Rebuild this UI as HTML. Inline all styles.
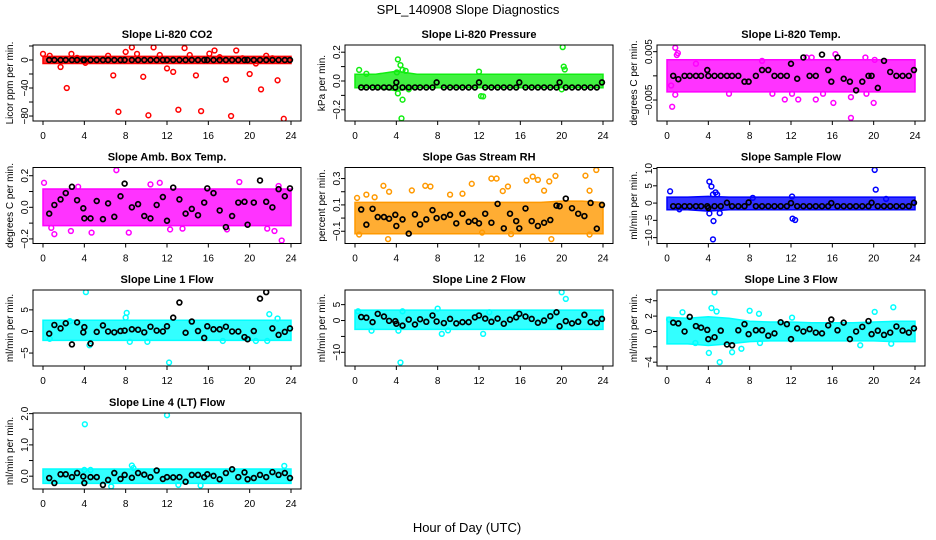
<!DOCTYPE html>
<html><head><meta charset="utf-8"><style>
html,body{margin:0;padding:0;background:#fff;}
svg{display:block;font-family:"Liberation Sans",Arial,sans-serif;}
</style></head><body>
<svg id="chart" width="936" height="540" viewBox="0 0 936 540" xmlns="http://www.w3.org/2000/svg">
<rect x="0" y="0" width="936" height="540" fill="#fff"/>
<text x="468" y="14" text-anchor="middle" font-size="13">SPL_140908  Slope Diagnostics</text>
<text x="467" y="532" text-anchor="middle" font-size="13">Hour of Day (UTC)</text>
</svg>
<script>
// ---- shared data ----
const blackHours=[0.6,1.1,1.7,2.2,2.8,3.3,3.9,4.0,4.6,5.2,5.8,6.3,6.9,7.5,7.9,8.6,9.2,9.8,10.4,11.0,11.6,12.0,12.6,13.2,13.8,14.4,15.0,15.6,15.9,16.5,17.1,17.7,18.3,18.9,19.5,19.8,20.4,21.0,21.6,22.2,22.8,23.4,23.9];
const bandHours=[0,2,4,6,8,10,12,14,16,18,20,22,24];
const xTicks=[0,4,8,12,16,20,24];

// P1 CO2
const co2Black=[0,0,0,0,0,0,0,0,0,0,0,0,0,0,0,0,0,0,0,0,0,0,0,0,0,0,0,0,0,0,0,0,0,0,0,0,0,0,0,0,0,0,0];
const co2BandLo=[-1.5,-1.5,-1.5,-1.5,-1.5,-1.5,-1.5,-1.5,-1.5,-1.5,-1.5,-1.5,-1.5];
const co2BandHi=[1.5,1.5,1.5,1.5,1.5,1.5,1.5,1.5,1.5,1.5,1.5,1.5,1.5];
const co2OutX=[0,0.65,1.7,2.3,2.75,3.3,4.1,6.3,6.8,7.3,8.0,8.6,9.1,9.7,10.2,10.7,11.3,12,12.6,13.1,13.7,14.2,14.8,15.3,16.1,16.6,17.1,17.7,18.2,18.7,19.3,20,20.6,21.1,21.6,22.2,22.7,23.3];
const co2OutY=[8.7,6,-10,-40,8.7,3,-4,6,-22,-74,11.5,18,8.7,-24,-79,18,7,-12,-17,-71,17,7,-22,-73,9,13.5,4,-28,-80,13.5,2.4,-20,-5,-42,6,2.4,-29,-84];
const co2Ticks=[20,0,-20,-40,-60,-80];
const co2TickLabels=["","0","","-40","","-80"];

// P2 Pressure
const presBlack=[-0.045,-0.045,-0.045,-0.045,-0.045,-0.045,-0.045,-0.01,-0.045,-0.045,-0.045,-0.045,-0.045,-0.045,-0.01,-0.045,-0.045,-0.045,-0.045,-0.045,-0.045,-0.01,-0.045,-0.045,-0.045,-0.045,-0.045,-0.045,-0.01,-0.045,-0.045,-0.045,-0.045,-0.045,-0.045,-0.01,-0.045,-0.045,-0.045,-0.045,-0.045,-0.045,-0.01];
const presBandLo=[-0.03,-0.03,-0.05,-0.03,-0.03,-0.03,-0.03,-0.03,-0.03,-0.03,-0.03,-0.03,-0.03];
const presBandHi=[0.03,0.03,0.05,0.03,0.03,0.03,0.03,0.03,0.03,0.03,0.03,0.03,0.03];
const presOutX=[0.4,1.1,4.15,4.05,4.4,4.6,4.9,4.15,4.6,4.5,5.2,12,12.2,12.4,20.1,20.2,20.3,20];
const presOutY=[0.077,0.05,0.15,0.06,0.11,0.077,0.07,-0.086,-0.13,-0.26,-0.058,0.065,-0.105,-0.107,0.235,0.1,0.08,-0.058];
const presTicks=[0.2,0.1,0,-0.1,-0.2];
const presTickLabels=["0.2","","0.0","","-0.2"];

// P3 Li-820 Temp
const tempBlack=[0,-0.0007,0,0,0,0,0.0012,0,0,0,0,0,0,-0.0012,-0.0012,0,0.0012,0.0012,0,0,0,0.0025,-0.0006,0.0038,0,0,0.0044,0.0012,-0.0012,0.0038,-0.0006,-0.0012,-0.003,-0.0012,0,0,-0.0025,0.0031,0.0008,0,0,0,0.0012];
const tempBandLo=[-0.0028,-0.0028,-0.0028,-0.0028,-0.0028,-0.0028,-0.0028,-0.0028,-0.0028,-0.0028,-0.0028,-0.0028,-0.0028];
const tempBandHi=[0.0028,0.0028,0.0028,0.0028,0.0028,0.0028,0.0028,0.0028,0.0028,0.0028,0.0028,0.0028,0.0028];
const tempOutX=[0.8,1.05,0.95,0.5,0.8,0.4,2.8,6,10.2,11.4,12.1,12.7,13.5,14,14.4,15.1,16.1,16.3,17.8,17.8,19.2,19.3,20,20.1,9.2];
const tempOutY=[0.0058,0.0047,0.0043,-0.0064,-0.0039,-0.002,0.0025,-0.0037,-0.0037,-0.0049,-0.0037,-0.0049,0.0038,0.0038,-0.0049,-0.0037,-0.0056,0.0045,-0.0087,-0.0044,0.0038,-0.0037,-0.0056,0.0033,0.0031];
const tempTicks=[0.005,0,-0.005];
const tempTickLabels=["0.005","","-0.005"];

// P4 Amb box temp
const ambBlack=[-0.04,0.015,0.05,0.09,0.13,0.045,-0.006,-0.07,-0.07,0.04,-0.075,0.025,-0.06,0.07,0.15,0,0.02,-0.055,-0.07,0.015,0.065,-0.085,0.125,0.05,-0.04,-0.01,-0.05,0.03,0.12,0.09,-0.02,-0.125,-0.055,0.03,0.035,-0.11,0.03,0.17,0.035,0,0.115,0.07,0.12];
const ambBandLo=[-0.1,-0.1,-0.1,-0.1,-0.1,-0.1,-0.1,-0.1,-0.1,-0.1,-0.1,-0.1,-0.1];
const ambBandHi=[0.1,0.1,0.1,0.1,0.1,0.1,0.1,0.1,0.1,0.1,0.1,0.1,0.1];
const ambOutX=[0.1,0.8,1.1,2.7,3.4,4.7,7.1,8.3,10.4,12.3,13.5,17.8,19,21.7,22.4,23.1,22.8,11.3];
const ambOutY=[0.155,-0.13,-0.17,-0.15,0.13,-0.16,0.235,-0.16,0.145,-0.14,-0.135,-0.14,0.16,-0.135,-0.15,-0.21,0.135,0.155];
const ambTicks=[0.2,0.1,0,-0.1,-0.2];
const ambTickLabels=["0.2","","0.0","","-0.2"];

// P5 Gas stream RH
const rhBlack=[0.065,-0.05,0.07,0.008,0.008,-0.005,0.025,-0.06,-0.01,-0.118,0.028,-0.048,-0.01,0.06,0,0.008,0.025,-0.04,0.033,-0.028,-0.02,-0.04,0.033,-0.035,0.108,-0.078,0.033,-0.023,-0.078,0.073,-0.023,-0.06,-0.035,-0.015,0.095,0.09,0.148,0.075,0.033,0.015,0.115,-0.08,0.1];
const rhBandLo=[-0.1,-0.1,-0.1,-0.1,-0.1,-0.1,-0.1,-0.1,-0.1,-0.1,-0.1,-0.1,-0.1];
const rhBandHi=[0.1,0.1,0.1,0.1,0.1,0.1,0.1,0.1,0.1,0.1,0.11,0.11,0.1];
const rhOutX=[0.2,1.1,1.9,2.75,3.3,3.2,0.4,5.5,6.8,7.3,9.2,10.4,11.3,13.2,13.7,14.3,14.8,15.1,16.6,17.2,17.7,18.3,18.8,19,19.4,22.3,22.7,23.35,22.7,12.3];
const rhOutY=[0.153,0.178,0.158,0.245,0.2,-0.16,-0.125,0.21,0.245,0.24,0.178,0.185,0.26,0.3,0.3,0.205,0.24,-0.122,0.285,0.315,0.29,0.208,0.278,-0.16,0.32,0.322,0.208,0.365,-0.125,-0.11];
const rhTicks=[0.3,0.2,0.1,0,-0.1];
const rhTickLabels=["0.3","","0.1","","-0.1"];

// P6 Sample flow
const sampBlack=[-0.9,-0.9,-0.9,-0.9,-0.9,-0.9,-0.9,-1.4,-0.9,-0.9,0.1,-0.9,-0.9,-0.9,0.2,-0.9,-0.9,-0.9,-0.9,-0.9,-0.9,0,-0.9,-0.9,-0.9,-0.9,-0.9,-0.9,0,-0.9,-0.9,-0.9,-0.9,-0.9,-0.9,0.1,-0.9,-0.9,-0.9,-0.9,-0.9,-0.9,0.1];
const sampBandLo=[-1.2,-1.2,-1.6,-1.2,-1.2,-1.2,-1.2,-1.2,-1.2,-1.2,-1.2,-1.2,-1.2];
const sampBandHi=[1.0,1.0,1.2,1.0,1.0,1.0,1.0,1.0,1.0,1.0,1.0,1.0,1.0];
const sampOutX=[0.3,1.2,4.1,4.3,4.45,4.7,4.85,4.5,4.45,4.1,5.1,8.3,12.1,12.15,12.4,20.1,20.2,21.2];
const sampOutY=[3.4,-1.8,6.2,4.8,2.5,3.1,2.5,-5.2,-10.5,-3,-2.9,1.5,1.9,-4.5,-4.9,9.6,3.9,1.2];
const sampTicks=[10,5,0,-5,-10];
const sampTickLabels=["10","5","0","-5","-10"];

// P7 Line 1 flow
const l1Black=[-0.5,1.5,0.7,1.9,-3,2.1,-0.2,1,-2.8,-0.1,1.4,0,-0.2,0.1,0.2,0.5,0.4,-0.2,1.1,0.2,0,1.2,3.2,6.7,-0.3,2.3,0.1,-1.5,1.2,0.5,0.5,1.1,0,0,-1.3,-1.8,0.1,7.6,9.1,0.7,-0.8,-0.1,0.7];
const l1BandLo=[-1.5,-1.5,-1.5,-1.5,-1.5,-1.5,-1.5,-1.5,-1.5,-1.5,-1.5,-1.5,-1.5];
const l1BandHi=[2.0,2.0,2.0,2.0,2.0,2.0,2.0,2.0,2.0,2.0,2.0,2.0,2.0];
const l1OutX=[4.15,8.1,8,8.4,2.6,4.5,12.2,10.1,21.9,22.7,17.4,20.6,21.7,0.65];
const l1OutY=[9.1,4.3,3.2,-2.4,2.4,-3.2,-7.2,-2.4,4,3,-2.2,-2.2,-2.2,-1.7];
const l1Ticks=[5,0,-5];
const l1TickLabels=["5","0","-5"];

// P8 Line 2 flow
const l2Black=[1.1,0.9,-0.5,2.1,1.25,-0.1,-0.2,-1,-1.6,0.3,-1.25,0.4,-0.4,1.6,-0.3,-0.8,0.5,-0.9,-0.5,-0.5,1,1.6,0.6,-0.4,0.6,-1,0.3,1,2.1,1.25,0.5,-0.7,0,1.35,2.6,-1.8,-0.2,-0.9,-0.4,1.8,-0.5,-0.8,0.5];
const l2BandLo=[-2,-2,-2,-2,-2,-2,-2,-2,-2,-2,-2,-2,-2];
const l2BandHi=[2.5,2.5,2.5,2.5,2.5,2.5,2.5,2.5,2.5,2.5,2.5,2.5,2.5];
const l2OutX=[20,20.4,4.4,4.2,8.4,9,12.4,1.6,8.0,0.3,4.6,13];
const l2OutY=[8.9,6.8,-13.2,-3.2,-4.2,-3.1,-4.2,-3.2,3.75,2.9,2.9,2.6];
const l2Ticks=[5,0,-5,-10];
const l2TickLabels=["5","0","","-10"];

// P9 Line 3 flow
const l3Black=[1.15,1.05,0,1.9,0.7,0.5,0.2,-1,-0.75,0.1,-1.7,-1.8,0.15,0.95,-0.35,0.15,0.15,-0.55,-0.25,1.2,0.95,-1,0.4,0,0.3,-0.15,-0.25,0.8,1.55,0.15,1.15,-1,0,0.6,1.35,-0.35,0.1,-0.45,-0.15,0.65,0.1,-0.15,0.4];
const l3BandLo=[-1.3,-1.3,-1.5,-1.3,-1,-0.9,-0.9,-0.9,-0.9,-0.9,-0.9,-1,-1];
const l3BandHi=[1.5,1.4,1.6,1.4,1,0.9,0.9,0.8,0.8,0.8,0.9,1,1];
const l3OutX=[4.6,5.1,4.05,4.3,4.8,1.5,2.75,8,8.9,9,7.2,6.3,20.1,21.9,21.7,12.1,0.2,18.7];
const l3OutY=[5.1,-4,-2.8,3.05,2.6,2.5,-1.5,2.7,2.3,-1.5,-2.25,-2.7,2.55,3.15,-1.6,1.8,1.55,-1.8];
const l3Ticks=[4,2,0,-2,-4];
const l3TickLabels=["4","2","0","","-4"];

// P10 Line 4 (LT) flow
const l4Black=[-0.06,-0.22,0.06,0.06,-0.03,0.1,-0.01,-0.22,-0.03,-0.03,-0.28,-0.12,0.1,-0.09,0.04,-0.05,0.1,0.05,-0.03,0.18,-0.09,-0.03,-0.04,-0.03,-0.18,0.04,0.04,-0.03,0.06,0.01,-0.1,0.1,0.22,-0.03,0.12,-0.1,-0.06,0.04,-0.03,0.13,0.04,0.1,-0.06];
const l4BandLo=[-0.15,-0.15,-0.15,-0.15,-0.15,-0.15,-0.15,-0.15,-0.15,-0.15,-0.15,-0.15,-0.15];
const l4BandHi=[0.15,0.15,0.15,0.15,0.15,0.15,0.15,0.15,0.15,0.15,0.15,0.15,0.15];
const l4OutX=[4.05,12,8.6,8.75,6.6,23.35,15.25,13.1,4,4.6];
const l4OutY=[1.66,1.95,0.34,0.26,-0.33,0.33,-0.3,-0.28,0.2,0.2];
const l4Ticks=[2.0,1.5,1.0,0.5,0.0];
const l4TickLabels=["2.0","","1.0","","0.0"];

// ---- layout (not data) ----
const panels=[
 {key:'co2',title:'Slope Li-820 CO2',ylab:'Licor ppm per min.',col:0,row:0,ymax:21.4,ymin:-87.1,color:'#ff0000',black:co2Black,lo:co2BandLo,hi:co2BandHi,ox:co2OutX,oy:co2OutY,ticks:co2Ticks,tl:co2TickLabels},
 {key:'pressure',title:'Slope Li-820 Pressure',ylab:'kPa per min.',col:1,row:0,ymax:0.25,ymin:-0.278,color:'#11ee11',black:presBlack,lo:presBandLo,hi:presBandHi,ox:presOutX,oy:presOutY,ticks:presTicks,tl:presTickLabels},
 {key:'li820-temp',title:'Slope Li-820 Temp.',ylab:'degrees C per min.',col:2,row:0,ymax:0.00638,ymin:-0.00934,color:'#ff00ff',black:tempBlack,lo:tempBandLo,hi:tempBandHi,ox:tempOutX,oy:tempOutY,ticks:tempTicks,tl:tempTickLabels},
 {key:'amb-box-temp',title:'Slope Amb. Box Temp.',ylab:'degrees C per min.',col:0,row:1,ymax:0.252,ymin:-0.229,color:'#ff00ff',black:ambBlack,lo:ambBandLo,hi:ambBandHi,ox:ambOutX,oy:ambOutY,ticks:ambTicks,tl:ambTickLabels},
 {key:'gas-stream-rh',title:'Slope Gas Stream RH',ylab:'percent per min.',col:1,row:1,ymax:0.384,ymin:-0.193,color:'#ff9900',black:rhBlack,lo:rhBandLo,hi:rhBandHi,ox:rhOutX,oy:rhOutY,ticks:rhTicks,tl:rhTickLabels},
 {key:'sample-flow',title:'Slope Sample Flow',ylab:'ml/min per min.',col:2,row:1,ymax:10.3,ymin:-11.7,color:'#0000ff',black:sampBlack,lo:sampBandLo,hi:sampBandHi,ox:sampOutX,oy:sampOutY,ticks:sampTicks,tl:sampTickLabels},
 {key:'line1-flow',title:'Slope Line 1 Flow',ylab:'ml/min per min.',col:0,row:2,ymax:9.6,ymin:-8.0,color:'#00ffff',black:l1Black,lo:l1BandLo,hi:l1BandHi,ox:l1OutX,oy:l1OutY,ticks:l1Ticks,tl:l1TickLabels},
 {key:'line2-flow',title:'Slope Line 2 Flow',ylab:'ml/min per min.',col:1,row:2,ymax:9.6,ymin:-14.3,color:'#00ffff',black:l2Black,lo:l2BandLo,hi:l2BandHi,ox:l2OutX,oy:l2OutY,ticks:l2Ticks,tl:l2TickLabels},
 {key:'line3-flow',title:'Slope Line 3 Flow',ylab:'ml/min per min.',col:2,row:2,ymax:5.4,ymin:-4.5,color:'#00ffff',black:l3Black,lo:l3BandLo,hi:l3BandHi,ox:l3OutX,oy:l3OutY,ticks:l3Ticks,tl:l3TickLabels},
 {key:'line4-flow',title:'Slope Line 4 (LT) Flow',ylab:'ml/min per min.',col:0,row:3,ymax:2.02,ymin:-0.41,color:'#00ffff',black:l4Black,lo:l4BandLo,hi:l4BandHi,ox:l4OutX,oy:l4OutY,ticks:l4Ticks,tl:l4TickLabels}
];
const colLeft=[33,345,657], boxW=268, rowTop=[45,167.5,290,413], boxH=76;
const NS='http://www.w3.org/2000/svg';
const svg=document.getElementById('chart');
function mk(tag,attrs,parent){const e=document.createElementNS(NS,tag);for(const k in attrs)e.setAttribute(k,attrs[k]);parent.appendChild(e);return e;}

panels.forEach(p=>{
  const L=colLeft[p.col], T=rowTop[p.row], R=L+boxW, B=T+boxH;
  const x0=L+10, x1=R-10;
  const sx=h=>x0+(h/24)*(x1-x0);
  const sy=v=>T+(p.ymax-v)/(p.ymax-p.ymin)*boxH;
  const g=mk('g',{},svg);
  
  
  const clip=mk('clipPath',{id:'clip-'+p.key},g);
  mk('rect',{x:L,y:T,width:boxW,height:boxH},clip);
  const plot=mk('g',{'clip-path':'url(#clip-'+p.key+')'},g);
  let d='';
  bandHours.forEach((h,i)=>{d+=(i?'L':'M')+sx(h).toFixed(1)+','+(sy(p.hi[i])-2.5).toFixed(1);});
  for(let i=bandHours.length-1;i>=0;i--){d+='L'+sx(bandHours[i]).toFixed(1)+','+(sy(p.lo[i])+2.5).toFixed(1);}
  d+='Z';
  const band=mk('path',{d:d,fill:p.color,'fill-opacity':0.8,stroke:p.color,'stroke-width':1.5},plot);
  
  
  p.ox.forEach((h,i)=>{
    const c=mk('circle',{cx:sx(h),cy:sy(p.oy[i]),r:2.4,fill:'none',stroke:p.color,'stroke-width':1.5},plot);
    
    
  });
  blackHours.forEach((h,i)=>{
    const c=mk('circle',{cx:sx(h),cy:sy(p.black[i]),r:2.4,fill:'none',stroke:'#000','stroke-width':1.7},plot);
    
    
  });
  const box=mk('rect',{x:L,y:T,width:boxW,height:boxH,fill:'none',stroke:'#000','stroke-width':1},g);
  
  
  const t=mk('text',{x:(L+R)/2,y:T-7,'text-anchor':'middle','font-size':11,'font-weight':'bold'},g);
  t.textContent=p.title;
  
  
  xTicks.forEach(h=>{
    mk('line',{x1:sx(h),x2:sx(h),y1:B,y2:B+4,stroke:'#000'},g);
    const tx=mk('text',{x:sx(h),y:B+18,'text-anchor':'middle','font-size':10},g);
    tx.textContent=String(h);
    
    
  });
  p.ticks.forEach((v,i)=>{
    const y=sy(v);
    mk('line',{x1:L-4,x2:L,y1:y,y2:y,stroke:'#000'},g);
    if(p.tl[i]){
      const ty=mk('text',{x:L-5,y:y,'text-anchor':'middle','font-size':10,transform:'rotate(-90 '+(L-5)+' '+y+')'},g);
      ty.textContent=p.tl[i].replace('-','\u2212');
      
      
    }
  });
  const yl=mk('text',{x:L-20,y:(T+B)/2,'text-anchor':'middle','font-size':10,transform:'rotate(-90 '+(L-20)+' '+((T+B)/2)+')'},g);
  yl.textContent=p.ylab;
  
  
});
</script>
</body></html>
